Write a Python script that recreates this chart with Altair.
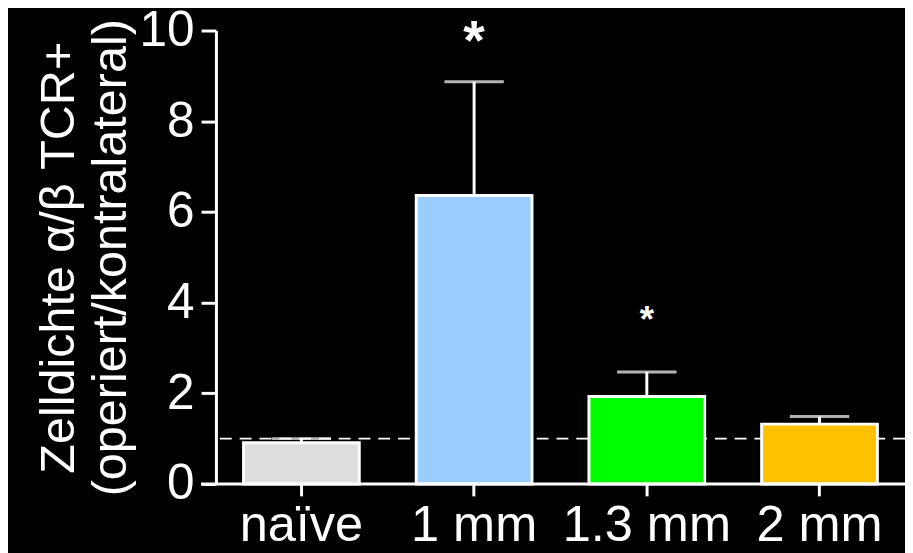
import altair as alt
import pandas as pd

categories = ["naïve", "1 mm", "1.3 mm", "2 mm"]
means = [0.91, 6.36, 1.93, 1.32]
upper = [1.0, 8.87, 2.47, 1.49]
colors = ["#DDDDDD", "#99CCFF", "#00FF00", "#FFC000"]
star_cats = ["1 mm", "1.3 mm"]
star_text = ["*", "*"]
star_y = [9.37, 3.35]
star_size = [56, 37]
ref_value = [1.0]

W, H = 696, 458
FONT = "Liberation Sans"

df = pd.DataFrame({"cat": categories, "mean": means, "upper": upper, "color": colors})
df_star = pd.DataFrame({"cat": star_cats, "t": star_text, "y": star_y, "fs": star_size})
df_ref = pd.DataFrame({"y": ref_value})

xsc = alt.Scale(domain=categories, paddingInner=0.33, paddingOuter=0.16)
ysc = alt.Scale(domain=[0, 10], nice=False)

xenc = alt.X("cat:N", scale=xsc, sort=categories,
             axis=alt.Axis(title=None, labelAngle=0, domain=False, tickSize=12,
                           tickWidth=3, labelPadding=5, labelFontSize=51))
yenc = alt.Y("mean:Q", scale=ysc,
             axis=alt.Axis(title=["Zelldichte α/β TCR+", "(operiert/kontralateral)"],
                           values=[0, 2, 4, 6, 8, 10], tickSize=15, tickWidth=3,
                           domainWidth=3, labelPadding=7, labelFontSize=50,
                           titleFontSize=49, titleFontWeight="normal",
                           titleLineHeight=53, titleX=-134, titleY=H / 2,
                           titleAlign="center", titleBaseline="bottom", titleAngle=-90))

ref = alt.Chart(df_ref).mark_rule(color="white", strokeWidth=2, strokeDash=[12, 8]).encode(
    y=alt.Y("y:Q", scale=ysc))

bars = alt.Chart(df).mark_bar(stroke="white", strokeWidth=3).encode(
    x=xenc, y=yenc,
    color=alt.Color("color:N", scale=None))

err = alt.Chart(df).mark_rule(color="white", strokeWidth=3).encode(
    x=alt.X("cat:N", scale=xsc, sort=categories),
    y=alt.Y("mean:Q", scale=ysc), y2="upper:Q")

caps = alt.Chart(df).mark_tick(color="white", size=60, thickness=3).encode(
    x=alt.X("cat:N", scale=xsc, sort=categories),
    y=alt.Y("upper:Q", scale=ysc))

stars = alt.Chart(df_star).mark_text(color="white", fontWeight="bold", baseline="alphabetic",
                                     font=FONT).encode(
    x=alt.X("cat:N", scale=xsc, sort=categories),
    y=alt.Y("y:Q", scale=ysc),
    text="t:N",
    size=alt.Size("fs:Q", scale=None))

xline = alt.Chart(df_ref).mark_rule(color="white", strokeWidth=3).encode(
    x=alt.value(-15), x2=alt.value(W + 10), y=alt.value(H))

chart = alt.layer(ref, bars, err, caps, stars, xline).properties(
    width=W, height=H,
    autosize=alt.AutoSizeParams(type="none"),
    padding={"left": 210, "top": 20, "right": 0, "bottom": 70},
    background="black",
).configure_view(stroke=None).configure_axis(
    domainColor="white", tickColor="white", labelColor="white", titleColor="white",
    labelFont=FONT, titleFont=FONT, grid=False,
)

chart.save("out.html", embed_options={"renderer": "svg", "actions": False})
